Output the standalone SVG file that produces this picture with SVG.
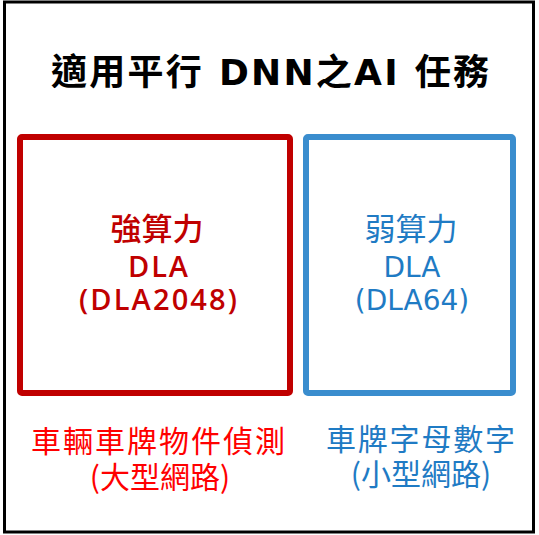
<svg xmlns="http://www.w3.org/2000/svg" width="539" height="535" viewBox="0 0 539 535">
<style>
text{font-family:"DejaVu Sans","Noto Sans CJK TC",sans-serif;text-anchor:middle}
.title{font-size:36px;font-weight:bold;fill:#000}
.red{fill:#C00000}
.blue{fill:#1F7BC4}
.cjk{font-family:"Noto Sans CJK TC",sans-serif;font-size:31px}
.rl{font-family:"Open Sans",sans-serif;font-size:29px;font-weight:600}
.bl{font-size:28px}
.lr{fill:#FF0000;font-family:"Noto Sans CJK TC",sans-serif;font-size:30px}
.lb{fill:#1F7BC4;font-family:"Noto Sans CJK TC",sans-serif;font-size:30px}
</style>
<rect x="4.5" y="2" width="529" height="530" fill="#fff" stroke="#000" stroke-width="3"/>
<g id="title"><text class="title" x="270" y="85" textLength="438" lengthAdjust="spacing">適用平行 DNN之AI 任務</text></g>
<g id="strong">
<rect x="20" y="137" width="270" height="256" rx="2" fill="#fff" stroke="#C00000" stroke-width="6"/>
<text class="red cjk" x="157" y="240" font-weight="500">強算力</text>
<text class="red rl" x="158" y="277" textLength="60" lengthAdjust="spacing">DLA</text>
<text class="red rl" x="158" y="310" textLength="158" lengthAdjust="spacing">(DLA2048)</text>
</g>
<g id="weak">
<rect x="306" y="137" width="207" height="256" rx="2" fill="#fff" stroke="#3A8DCE" stroke-width="6"/>
<text class="blue cjk" x="411" y="240">弱算力</text>
<text class="blue bl" x="412" y="277">DLA</text>
<text class="blue bl" x="412" y="310">(DLA64)</text>
</g>
<g id="label-strong">
<text class="lr" x="158" y="452" textLength="254" lengthAdjust="spacing">車輛車牌物件偵測</text>
<text class="lr" x="160" y="488">(大型網路)</text>
</g>
<g id="label-weak">
<text class="lb" x="420.5" y="450" textLength="189" lengthAdjust="spacing">車牌字母數字</text>
<text class="lb" x="421" y="485">(小型網路)</text>
</g>
</svg>
